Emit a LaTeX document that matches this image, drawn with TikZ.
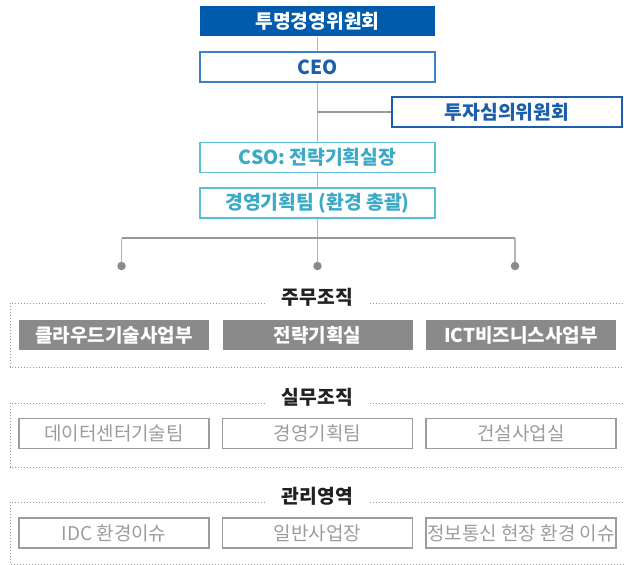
\documentclass[tikz,border=0pt]{standalone}
\usepackage{fontspec}
\setmainfont{Noto Sans CJK KR}
\definecolor{boardblue}{HTML}{005BAC}
\definecolor{ceoline}{HTML}{3F7FC6}
\definecolor{ceotext}{HTML}{1B5FAA}
\definecolor{csoline}{HTML}{5ABED8}
\definecolor{csotext}{HTML}{3AAAC6}
\definecolor{unitgray}{HTML}{8A8A8A}
\definecolor{palegray}{HTML}{9C9C9C}
\definecolor{linegray}{HTML}{B4B4B4}
\definecolor{railgray}{HTML}{999999}
\begin{document}
\begin{tikzpicture}[x=1pt, y=-1pt,
    orgbox/.style={rectangle, minimum width=235pt, minimum height=30pt, inner sep=0pt, line width=1.2pt, font=\fontsize{19.3}{22}\selectfont\bfseries},
    unitbox/.style={rectangle, minimum width=190pt, minimum height=30pt, inner sep=0pt, font=\fontsize{19}{22}\selectfont},
    grouptitle/.style={inner xsep=17pt, inner ysep=0pt, font=\fontsize{19.3}{22}\selectfont\bfseries, text=black!87},
    grpline/.style={draw=railgray, line width=0.8pt, dash pattern=on 0.9pt off 2.1pt},
    stem/.style={draw=linegray, line width=1.4pt},
    rail/.style={draw=railgray, line width=1.1pt},
    enddot/.style={circle, fill=unitgray, minimum size=8.5pt, inner sep=0pt}]
\useasboundingbox (0,0) rectangle (624,565);

% top of the chart
\node[orgbox, fill=boardblue, text=white] (board) at (317.5,21) {투명경영위원회};
\node[orgbox, draw=ceoline, fill=white, text=ceotext] (ceo) at (317.5,67) {CEO};
\node[orgbox, draw=ceotext, fill=white, text=ceotext, minimum width=230pt] (invest) at (507,112) {투자심의위원회};
\node[orgbox, draw=csoline, fill=white, text=csotext] (cso) at (317.5,157.5) {CSO: 전략기획실장};
\node[orgbox, draw=csoline, fill=white, text=csotext] (plan) at (317.5,203) {경영기획팀 (환경 총괄)};

\node[enddot] (dotl) at (121.5,266) {};
\node[enddot] (dotm) at (317.5,266) {};
\node[enddot] (dotr) at (515,266) {};
\coordinate (fork) at (317.5,238);

\draw[stem] (board) -- (ceo);
\draw[stem] (ceo) -- (cso);
\draw[stem] (cso) -- (plan);
\draw[stem] (plan) -- (dotm);
\draw[rail] (ceo.south |- invest.west) -- (invest.west);
\draw[stem] (dotl) -- (dotl |- fork);
\draw[stem] (dotr) -- (dotr |- fork);
\draw[rail] (dotl |- fork) -- (dotr |- fork);

% 주무조직
\node[grouptitle] (main) at (317.5,297) {주무조직};
\coordinate (m-nw) at (10,303); \coordinate (m-ne) at (624,303);
\coordinate (m-sw) at (10,367); \coordinate (m-se) at (624,367);
\draw[grpline] (main.west |- m-nw) -- (m-nw) -- (m-sw) -- (m-se);
\draw[grpline] (main.east |- m-ne) -- (m-ne);
\node[unitbox, fill=unitgray, text=white, font=\fontsize{19}{22}\selectfont\bfseries] (cloud) at (114,335) {클라우드기술사업부};
\node[unitbox, fill=unitgray, text=white, font=\fontsize{19}{22}\selectfont\bfseries] (strat) at (317.5,335) {전략기획실};
\node[unitbox, fill=unitgray, text=white, font=\fontsize{19}{22}\selectfont\bfseries] (ict) at (521,335) {ICT비즈니스사업부};

% 실무조직
\node[grouptitle] (work) at (317.5,397) {실무조직};
\coordinate (w-nw) at (10,403); \coordinate (w-ne) at (624,403);
\coordinate (w-sw) at (10,467); \coordinate (w-se) at (624,467);
\draw[grpline] (work.west |- w-nw) -- (w-nw) -- (w-sw) -- (w-se);
\draw[grpline] (work.east |- w-ne) -- (w-ne);
\node[unitbox, draw=palegray, line width=1.2pt, text=palegray] (idc) at (114,433.5) {데이터센터기술팀};
\node[unitbox, draw=palegray, line width=1.2pt, text=palegray] (mgmt) at (317.5,433.5) {경영기획팀};
\node[unitbox, draw=palegray, line width=1.2pt, text=palegray] (build) at (521,433.5) {건설사업실};

% 관리영역
\node[grouptitle] (area) at (317.5,496) {관리영역};
\coordinate (a-nw) at (10,502); \coordinate (a-ne) at (624,502);
\coordinate (a-sw) at (10,564); \coordinate (a-se) at (624,564);
\draw[grpline] (area.west |- a-nw) -- (a-nw) -- (a-sw) -- (a-se);
\draw[grpline] (area.east |- a-ne) -- (a-ne);
\node[unitbox, draw=palegray, line width=1.2pt, text=palegray] (idcenv) at (114,533) {IDC 환경이슈};
\node[unitbox, draw=palegray, line width=1.2pt, text=palegray] (site) at (317.5,533) {일반사업장};
\node[unitbox, draw=palegray, line width=1.2pt, text=palegray] (ictsite) at (521,533) {정보통신 현장 환경 이슈};
\end{tikzpicture}
\end{document}
